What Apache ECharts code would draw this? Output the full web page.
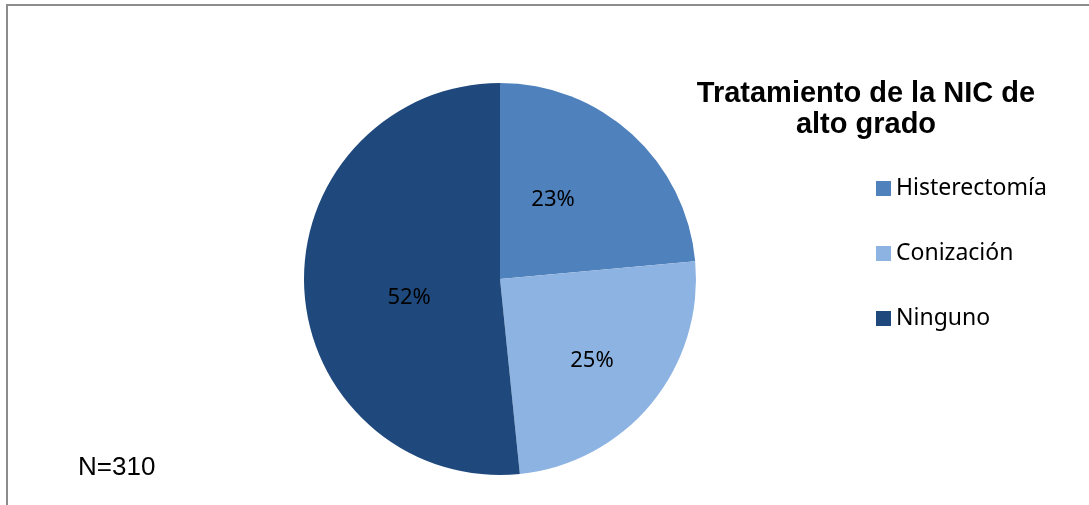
<!DOCTYPE html>
<html>
<head>
<meta charset="utf-8">
<script src="https://cdn.jsdelivr.net/npm/echarts@6/dist/echarts.min.js"></script>
<style>
  html, body { margin: 0; padding: 0; background: #fff; }
  #main { width: 1089px; height: 505px; }
</style>
</head>
<body>
<div id="main"></div>
<script>
// datos (N=310)
var categorias = ['Histerectomía', 'Conización', 'Ninguno'];
var pacientes = [73, 77, 160];
var colores = ['#4F81BD', '#8DB3E2', '#1F497D'];

var myChart = echarts.init(document.getElementById('main'));

// desplazamiento de las etiquetas (como en el original de Excel)
var desplazamientos = [[-15, -5], [14, 18], [10, 14]];

var option = {
    animation: false,
    color: colores,
    title: {
        text: 'Tratamiento de la NIC de\nalto grado',
        left: 866,
        top: 78,
        padding: 0,
        textAlign: 'center',
        textStyle: {
            fontFamily: 'Liberation Sans',
            fontSize: 29,
            fontWeight: 'bold',
            color: '#000',
            lineHeight: 31
        }
    },
    legend: {
        orient: 'vertical',
        left: 876,
        top: 177,
        icon: 'rect',
        itemWidth: 15,
        itemHeight: 15,
        itemGap: 42,
        padding: 0,
        data: categorias,
        textStyle: {
            fontFamily: 'Noto Sans',
            fontSize: 23,
            lineHeight: 23,
            color: '#000'
        }
    },
    graphic: [
        {   // borde del gráfico
            type: 'rect',
            shape: { x: 7, y: 5, width: 1200, height: 600 },
            style: { fill: 'none', stroke: '#8c8c8c', lineWidth: 2 },
            silent: true
        },
        {
            type: 'text',
            left: 78,
            top: 455,
            style: {
                text: 'N=310',
                fontFamily: 'Liberation Sans',
                fontSize: 26,
                fill: '#000'
            }
        }
    ],
    series: [
        {
            name: 'Tratamiento',
            type: 'pie',
            center: [500, 279],
            radius: [0, 196],
            startAngle: 90,
            clockwise: true,
            percentPrecision: 0,
            label: {
                show: true,
                position: 'inside',
                formatter: '{d}%',
                fontFamily: 'Noto Sans',
                fontSize: 22,
                color: '#000'
            },
            labelLine: { show: false },
            emphasis: { disabled: true },
            data: categorias.map(function (c, i) {
                return { name: c, value: pacientes[i], label: { offset: desplazamientos[i] } };
            })
        }
    ]
};

myChart.setOption(option);
</script>
</body>
</html>
